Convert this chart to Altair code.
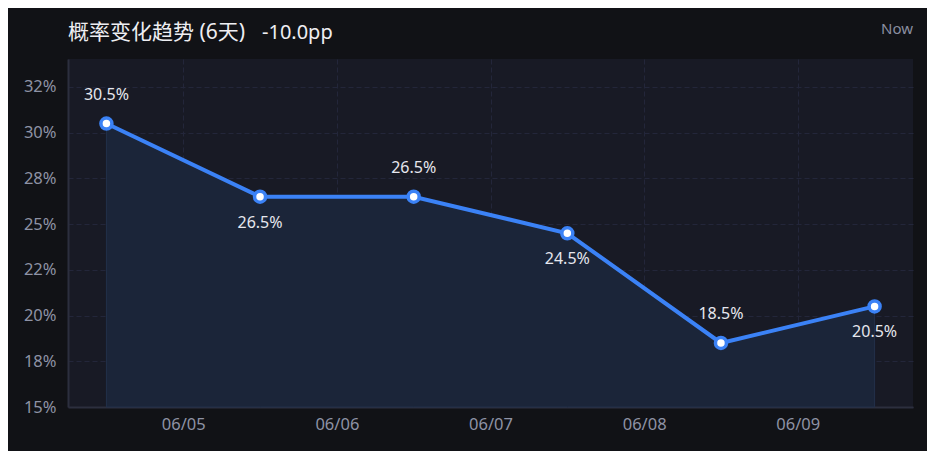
import altair as alt
import pandas as pd

# ---- data ----
dates = ["2024-06-04T12:00:00Z", "2024-06-05T12:00:00Z", "2024-06-06T12:00:00Z",
         "2024-06-07T12:00:00Z", "2024-06-08T12:00:00Z", "2024-06-09T12:00:00Z"]
probs = [30.5, 26.5, 26.5, 24.5, 18.5, 20.5]
label_side = ["above", "below", "above", "below", "above", "below"]
y_ticks = [15, 17.5, 20, 22.5, 25, 27.5, 30, 32.5]
y_tick_labels = ["15%", "18%", "20%", "22%", "25%", "28%", "30%", "32%"]
x_tick_days = [5, 6, 7, 8, 9]
title_text = "概率变化趋势 (6天)"
change_text = "-10.0pp"
now_text = "Now"

df = pd.DataFrame({"date": dates, "prob": probs, "side": label_side})
df["label"] = [f"{v:.1f}%" for v in probs]

FONT = "Noto Sans, Noto Sans CJK SC"
BLUE = "#3b82f6"

x_enc = alt.X(
    "date:T",
    scale=alt.Scale(
        type="utc",
        domain=[alt.DateTime(year=2024, month=6, date=4, hours=6, utc=True),
                alt.DateTime(year=2024, month=6, date=9, hours=18, utc=True)],
    ),
    axis=alt.Axis(
        values=[alt.DateTime(year=2024, month=6, date=d, utc=True) for d in x_tick_days],
        labelExpr="utcFormat(datum.value, '%m/%d')",
        title=None,
    ),
)
tick_arr = "[" + ",".join(str(v) for v in y_ticks) + "]"
lab_arr = "[" + ",".join(f"'{s}'" for s in y_tick_labels) + "]"
y_enc = alt.Y(
    "prob:Q",
    scale=alt.Scale(domain=[15, 34.03], nice=False, zero=False),
    axis=alt.Axis(values=y_ticks, labelExpr=f"{lab_arr}[indexof({tick_arr}, datum.value)]", title=None),
)

base = alt.Chart(df)

area = base.mark_area(color="#1b2539", opacity=1, stroke="#22304a", strokeWidth=1).encode(
    x=x_enc, y=y_enc, y2=alt.datum(15)
)
line = base.mark_line(color=BLUE, strokeWidth=4).encode(x=x_enc, y=y_enc)
points = base.mark_point(filled=True, fill="white", stroke=BLUE, strokeWidth=3.5,
                         size=121, opacity=1, shape="circle").encode(x=x_enc, y=y_enc)
lab_above = base.transform_filter(alt.datum.side == "above").mark_text(
    font=FONT, fontSize=16, color="#e6e7ee", dy=-29, baseline="middle"
).encode(x=x_enc, y=y_enc, text="label:N")
lab_below = base.transform_filter(alt.datum.side == "below").mark_text(
    font=FONT, fontSize=16, color="#e6e7ee", dy=26, baseline="middle"
).encode(x=x_enc, y=y_enc, text="label:N")

one = alt.Data(values=[{"k": 1}])
title_mark = alt.Chart(one).mark_text(
    text=title_text, font=FONT, fontSize=21, color="#eeeef2", align="left", baseline="alphabetic"
).encode(x=alt.value(0), y=alt.value(-20))
change_mark = alt.Chart(one).mark_text(
    text=change_text, font=FONT, fontSize=20, color="#eeeef2", align="left", baseline="alphabetic"
).encode(x=alt.value(194), y=alt.value(-20))
now_mark = alt.Chart(one).mark_text(
    text=now_text, font=FONT, fontSize=15, color="#8a8ea0", align="right", baseline="alphabetic"
).encode(x=alt.value(845), y=alt.value(-25))

chart = alt.layer(area, line, points, lab_above, lab_below, title_mark, change_mark, now_mark).properties(
    width=845, height=348,
    autosize=alt.AutoSizeParams(type="none"),
    padding={"left": 60, "top": 51, "right": 14, "bottom": 44},
    background="#111216",
).configure_view(
    fill="#181a25", stroke=None
).configure_axis(
    grid=True, gridColor="#23263a", gridDash=[5, 3], gridWidth=1,
    ticks=False, domainColor="#2c2f3e", domainWidth=2,
    labelFont=FONT, labelFontSize=16.5, labelColor="#8e92a5",
).configure_axisY(labelPadding=12).configure_axisX(labelPadding=9)

chart.save("out.html", embed_options={"renderer": "svg", "actions": False})
